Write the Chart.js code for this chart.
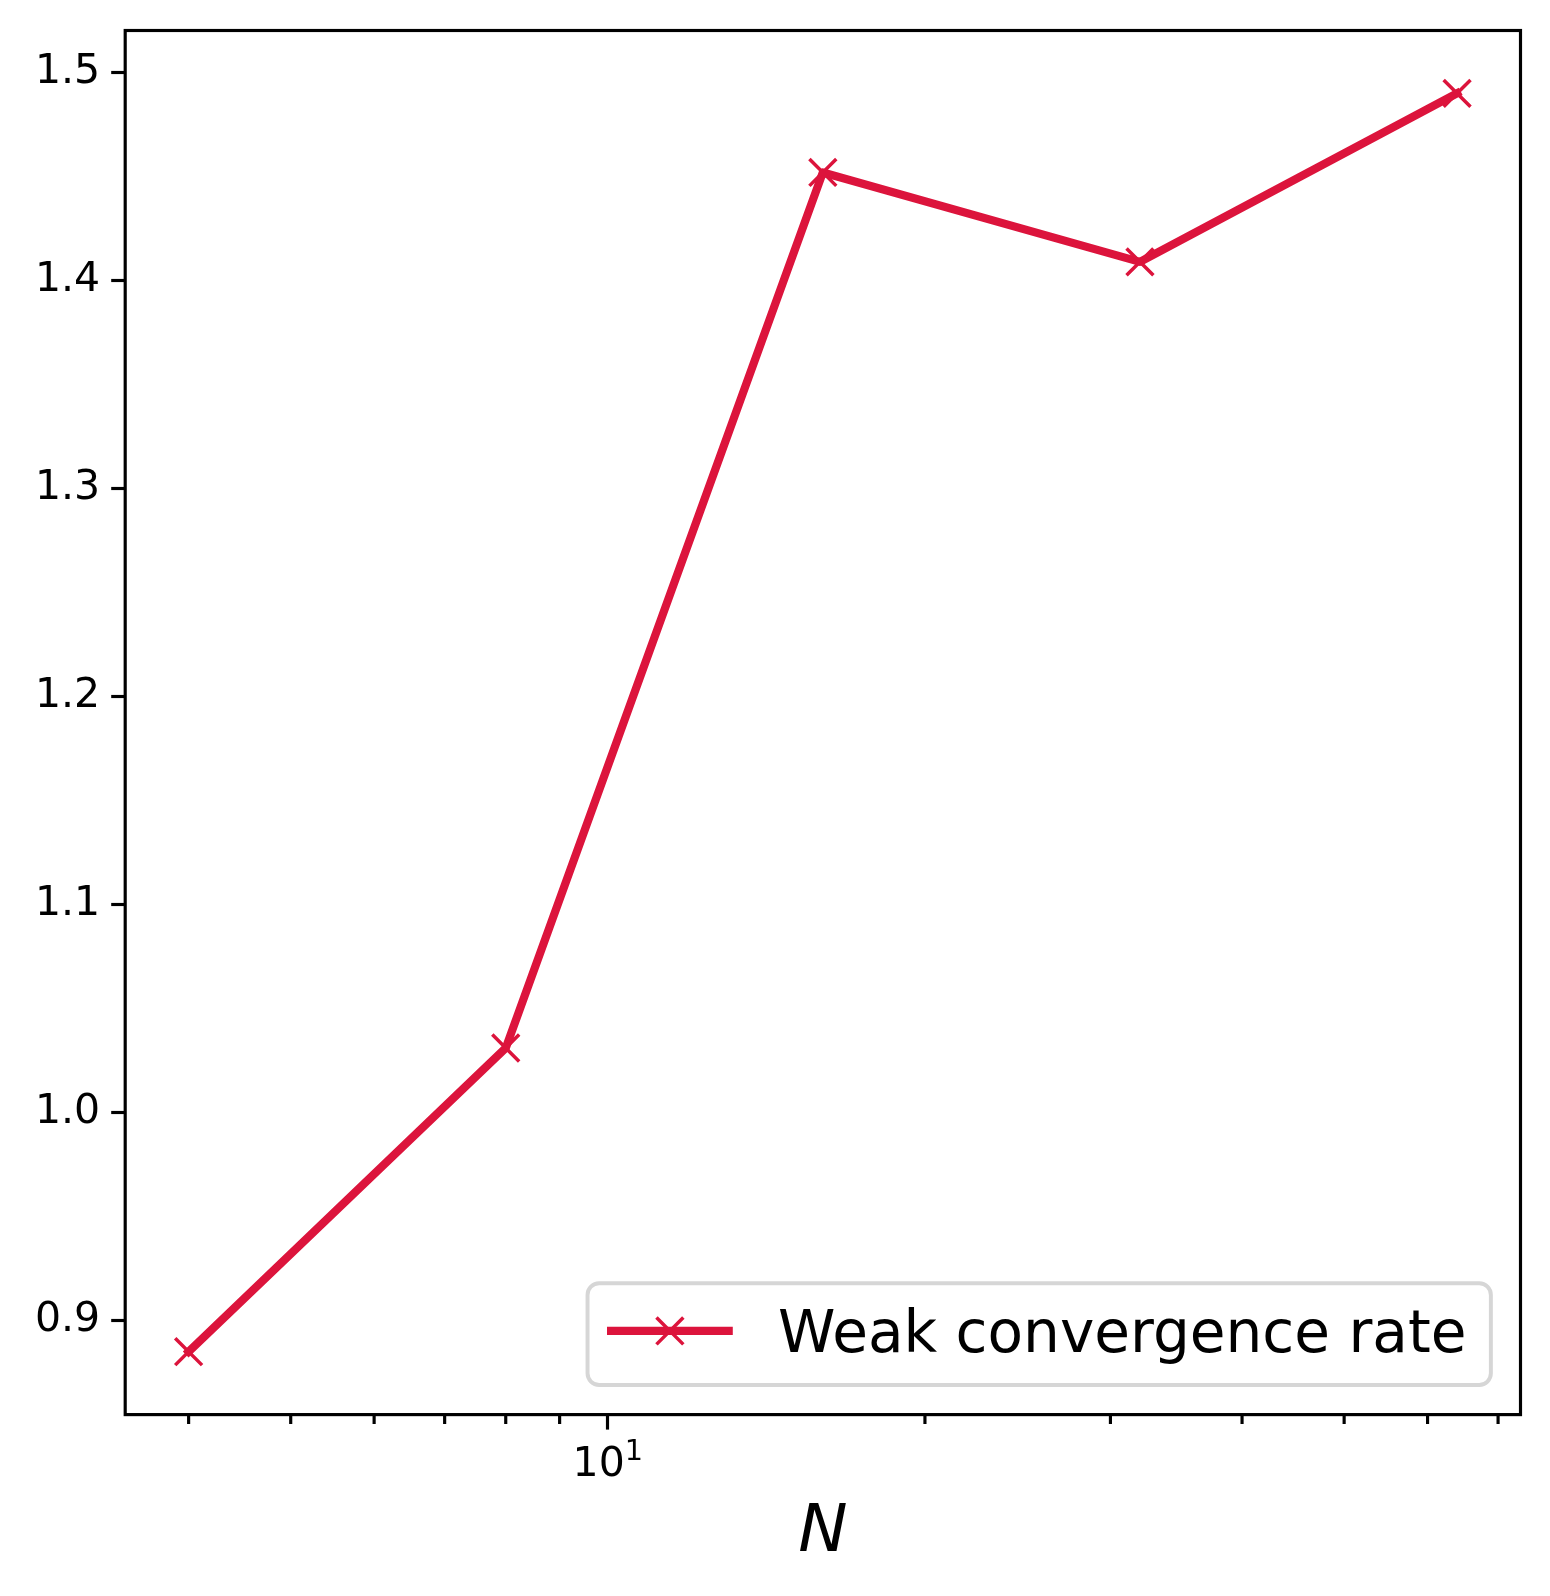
<!DOCTYPE html>
<html>
<head>
<meta charset="utf-8">
<script src="https://cdn.jsdelivr.net/npm/chart.js@4.4.0/dist/chart.umd.min.js"></script>
<style>
  html,body{margin:0;padding:0;background:#fff;}
  #wrap{width:1550px;height:1596px;}
</style>
</head>
<body>
<div id="wrap"><canvas id="c" width="1550" height="1596"></canvas></div>
<script>
/* ---------- DATA ---------- */
const nValues   = [4, 8, 16, 32, 64];                 // N (log axis)
const weakRate  = [0.885, 1.031, 1.452, 1.409, 1.490]; // weak convergence rate
const yTicks    = [0.9, 1.0, 1.1, 1.2, 1.3, 1.4, 1.5];
const xTicks    = [4, 5, 6, 7, 8, 9, 10, 20, 30, 40, 50, 60, 70];
const xMajor    = [10];
const xMajorLbl = {10: {base: '10', exp: '1'}};
const seriesLabel = 'Weak convergence rate';
const xTitle = 'N';

/* ---------- STYLE ---------- */
const RED = '#DC143C';
const FONT = '"DejaVu Sans", sans-serif';
const PT = 3.95;          // px per point
const TICK_FS = 41;       // tick label size
const LEG_FS = 58.1;      // legend text size

// matplotlib-like 5% margins
const lx = nValues.map(Math.log10);
const lspan = Math.max(...lx) - Math.min(...lx);
const xMin = Math.pow(10, Math.min(...lx) - 0.05 * lspan);
const xMax = Math.pow(10, Math.max(...lx) + 0.05 * lspan);
const yspan = Math.max(...weakRate) - Math.min(...weakRate);
const yMin = Math.min(...weakRate) - 0.05 * yspan;
const yMax = Math.max(...weakRate) + 0.05 * yspan;

/* ---------- PLUGINS ---------- */
const frame = {
  id: 'frame',
  afterDatasetsDraw(chart){
    const {ctx, chartArea:a} = chart;
    ctx.save();
    ctx.strokeStyle = '#000'; ctx.lineWidth = 0.8*PT;
    ctx.strokeRect(a.left, a.top, a.right - a.left, a.bottom - a.top);
    ctx.restore();
  }
};

// minor ticks + mathtext-like major labels (10^1) on the log axis
const logAxisExtras = {
  id: 'logAxisExtras',
  afterDraw(chart){
    const {ctx, chartArea:a} = chart, sx = chart.scales.x;
    ctx.save();
    ctx.strokeStyle = '#000'; ctx.lineWidth = 0.8*PT;
    sx.ticks.filter(t => !t.major).forEach(t => {
      const px = sx.getPixelForValue(t.value);
      ctx.beginPath(); ctx.moveTo(px, a.bottom); ctx.lineTo(px, a.bottom + 2*PT + 1.5); ctx.stroke();
    });
    ctx.fillStyle = '#000'; ctx.textAlign = 'left'; ctx.textBaseline = 'alphabetic';
    const supFs = TICK_FS*0.7, baseY = a.bottom + 61.5;
    sx.ticks.filter(t => t.major && xMajorLbl[t.value]).forEach(t => {
      const lbl = xMajorLbl[t.value], px = sx.getPixelForValue(t.value);
      ctx.font = `${TICK_FS}px ${FONT}`; const w1 = ctx.measureText(lbl.base).width;
      ctx.font = `${supFs}px ${FONT}`;   const w2 = ctx.measureText(lbl.exp).width;
      const x = px - (w1 + w2)/2;
      ctx.font = `${TICK_FS}px ${FONT}`; ctx.fillText(lbl.base, x, baseY);
      ctx.font = `${supFs}px ${FONT}`;   ctx.fillText(lbl.exp, x + w1, baseY - TICK_FS*0.39);
    });
    ctx.restore();
  }
};

function crossRot(ctx, x, y, r){
  ctx.beginPath();
  ctx.moveTo(x - r, y - r); ctx.lineTo(x + r, y + r);
  ctx.moveTo(x - r, y + r); ctx.lineTo(x + r, y - r);
  ctx.stroke();
}

const mplLegend = {
  id: 'mplLegend',
  afterDraw(chart){
    const {ctx, chartArea:a} = chart;
    const ds = chart.data.datasets[0];
    const fs = LEG_FS;
    ctx.save();
    ctx.font = `${fs}px ${FONT}`;
    const tw = ctx.measureText(ds.label).width;
    const w = fs*3.7 + tw, h = fs*1.75;
    const x1 = a.right - fs*0.51, y1 = a.bottom - fs*0.51;
    const x0 = x1 - w, y0 = y1 - h;
    ctx.beginPath(); ctx.roundRect(x0, y0, w, h, fs*0.2);
    ctx.fillStyle = 'rgba(255,255,255,0.8)'; ctx.fill();
    ctx.strokeStyle = '#d6d6d6'; ctx.lineWidth = PT; ctx.stroke();
    // handle
    const hy = y0 + h/2 - fs*0.055;
    const hx0 = x0 + fs*0.335, hx1 = x0 + fs*2.5;
    ctx.strokeStyle = ds.borderColor; ctx.lineWidth = ds.borderWidth; ctx.lineCap = 'butt';
    ctx.beginPath(); ctx.moveTo(hx0, hy); ctx.lineTo(hx1, hy); ctx.stroke();
    ctx.lineWidth = ds.pointBorderWidth;
    crossRot(ctx, (hx0 + hx1)/2, hy, ds.pointRadius*Math.SQRT1_2);
    // text
    ctx.fillStyle = '#000'; ctx.textAlign = 'left'; ctx.textBaseline = 'alphabetic';
    ctx.fillText(ds.label, x0 + fs*3.28, y1 - fs*0.56);
    ctx.restore();
  }
};

/* ---------- CHART ---------- */
new Chart(document.getElementById('c'), {
  type: 'line',
  data: {
    datasets: [{
      label: seriesLabel,
      data: nValues.map((n, i) => ({x: n, y: weakRate[i]})),
      borderColor: RED, backgroundColor: RED,
      borderWidth: 8.2, borderCapStyle: 'square', borderJoinStyle: 'round',
      tension: 0, fill: false,
      pointStyle: 'crossRot', pointRadius: 19, pointHoverRadius: 19,
      pointBorderWidth: 3.5, pointBorderColor: RED, pointBackgroundColor: RED
    }]
  },
  options: {
    responsive: false, animation: false, devicePixelRatio: 1,
    layout: {padding: {left: 0, right: 29.5, top: 30.5, bottom: 0}},
    plugins: {legend: {display: false}, tooltip: {enabled: false}},
    scales: {
      x: {
        type: 'logarithmic', min: xMin, max: xMax, bounds: 'data',
        afterBuildTicks: s => { s.ticks = xTicks.map(v => ({value: v, major: xMajor.includes(v)})); },
        afterFit: s => { s.height = 181.4; s.paddingLeft = 0; s.paddingRight = 0; },
        border: {display: false},
        grid: {drawOnChartArea: false, drawTicks: true, tickLength: 15, tickWidth: 0.8*PT,
               tickColor: c => (c.tick && c.tick.major) ? '#000' : 'rgba(0,0,0,0)'},
        ticks: {autoSkip: false, maxRotation: 0, minRotation: 0, padding: 9, color: '#000',
                font: {family: FONT, size: TICK_FS},
                callback: () => ''},
        title: {display: true, text: xTitle, color: '#000',
                font: {family: FONT, size: 66, style: 'italic'},
                padding: {top: 0, bottom: 22.5}}
      },
      y: {
        type: 'linear', min: yMin, max: yMax,
        afterBuildTicks: s => { s.ticks = yTicks.map(v => ({value: v})); },
        afterFit: s => { s.width = 125.2; s.paddingTop = 0; s.paddingBottom = 0; },
        border: {display: false},
        grid: {drawOnChartArea: false, drawTicks: true, tickLength: 14, tickWidth: 0.8*PT, tickColor: '#000'},
        ticks: {padding: 11, color: '#000', font: {family: FONT, size: TICK_FS},
                callback: v => Number(v).toFixed(1)}
      }
    }
  },
  plugins: [frame, logAxisExtras, mplLegend]
});
</script>
</body>
</html>
